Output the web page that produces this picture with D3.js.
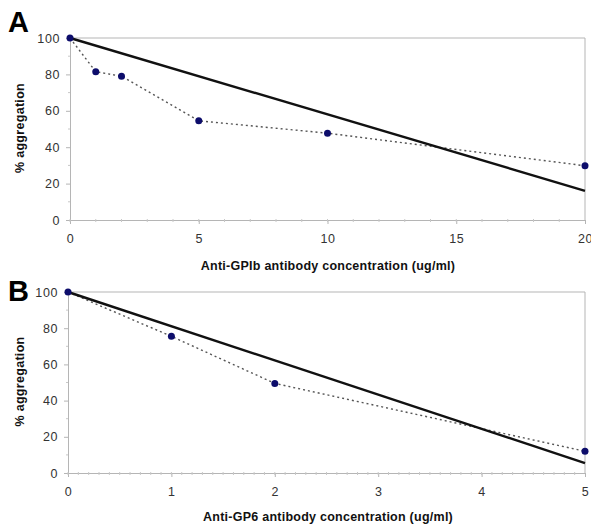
<!DOCTYPE html>
<html>
<head>
<meta charset="utf-8">
<script src="https://cdn.jsdelivr.net/npm/d3@7"></script>
<style>
body { margin: 0; background: #fff; }
text { font-family: Arial, "Liberation Sans", sans-serif; }
</style>
</head>
<body>
<svg id="chart" width="591" height="531"></svg>
<script>
// panel A : anti-GPIb
var doseA = [0, 1, 2, 5, 10, 20];
var aggA = [100, 81.5, 79, 54.5, 47.7, 29.8];
var fitA = [[0, 100], [20, 16]];
var ticksA = [0, 5, 10, 15, 20];

// panel B : anti-GP6
var doseB = [0, 1, 2, 5];
var aggB = [100, 75.5, 49.5, 12];
var fitB = [[0, 100], [5, 5.5]];
var ticksB = [0, 1, 2, 3, 4, 5];

var yTicks = [0, 20, 40, 60, 80, 100];

var svg = d3.select("#chart");

function drawPanel(opts) {
    var g = svg.append("g");
    var x = d3.scaleLinear().domain([0, opts.xmax]).range([opts.left, opts.right]);
    var y = d3.scaleLinear().domain([0, 100]).range([opts.bottom, opts.top]);

    // frame (top + right)
    g.append("path")
        .attr("d", "M" + opts.left + "," + opts.top + "H" + opts.right + "V" + opts.bottom)
        .attr("fill", "none").attr("stroke", "#b5b5b5").attr("stroke-width", 1);

    // y axis
    var ya = g.append("g").attr("transform", "translate(" + opts.left + ",0)")
        .call(d3.axisLeft(y).tickValues(yTicks).tickSize(4).tickPadding(6));
    ya.select(".domain").attr("stroke", "#b5b5b5");
    ya.selectAll(".tick line").attr("stroke", "#b5b5b5");
    ya.selectAll(".tick text").attr("font-size", 12.5).attr("fill", "#333")
        .attr("letter-spacing", 0.6)
        .attr("font-family", "Arial, 'Liberation Sans', sans-serif");
    g.append("g").selectAll("line").data(d3.range(10, 100, 20)).enter().append("line")
        .attr("x1", opts.left - 2).attr("x2", opts.left)
        .attr("y1", function(d) { return y(d); }).attr("y2", function(d) { return y(d); })
        .attr("stroke", "#c8c8c8");

    // x axis
    var xa = g.append("g").attr("transform", "translate(0," + opts.bottom + ")")
        .call(d3.axisBottom(x).tickValues(opts.xticks).tickFormat(d3.format("d")).tickSize(4).tickPadding(10));
    xa.select(".domain").attr("stroke", "#b5b5b5");
    xa.selectAll(".tick line").attr("stroke", "#b5b5b5");
    xa.selectAll(".tick text").attr("font-size", 12.5).attr("fill", "#333")
        .attr("letter-spacing", 0.6)
        .attr("font-family", "Arial, 'Liberation Sans', sans-serif");
    g.append("g").selectAll("line").data(d3.range(0, opts.xmax, opts.minor)).enter().append("line")
        .attr("x1", function(d) { return x(d); }).attr("x2", function(d) { return x(d); })
        .attr("y1", opts.bottom - 1).attr("y2", opts.bottom + 2)
        .attr("stroke", "#c8c8c8");

    // dotted data line
    var pts = opts.dose.map(function(d, i) { return [d, opts.agg[i]]; });
    var line = d3.line().x(function(d) { return x(d[0]); }).y(function(d) { return y(d[1]); });
    g.append("path").datum(pts)
        .attr("d", line)
        .attr("fill", "none").attr("stroke", "#555").attr("stroke-width", 1.4)
        .attr("stroke-dasharray", "2,3");

    // solid reference line
    g.append("path").datum(opts.fit)
        .attr("d", line)
        .attr("fill", "none").attr("stroke", "#111").attr("stroke-width", 2.4);

    g.selectAll("circle").data(pts).enter().append("circle")
        .attr("cx", function(d) { return x(d[0]); })
        .attr("cy", function(d) { return y(d[1]); })
        .attr("r", 3.5)
        .attr("fill", "#0d0d6b");

    var midY = (opts.top + opts.bottom) / 2 - 1;
    g.append("text")
        .attr("x", 20).attr("y", midY)
        .attr("transform", "rotate(-90,20," + midY + ")")
        .attr("text-anchor", "middle").attr("dy", "0.35em")
        .attr("font-size", 12.5).attr("font-weight", "bold").attr("fill", "#111")
        .attr("letter-spacing", 0.3)
        .text("% aggregation");

    g.append("text")
        .attr("x", 328).attr("y", opts.xlabelY)
        .attr("text-anchor", "middle")
        .attr("font-size", 12.5).attr("font-weight", "bold").attr("fill", "#111")
        .attr("letter-spacing", 0.25)
        .text(opts.xlabel);

    g.append("text")
        .attr("x", 8).attr("y", opts.letterY)
        .attr("font-size", 29).attr("font-weight", "bold").attr("fill", "#000")
        .text(opts.letter);
}

drawPanel({
    letter: "A", letterY: 32,
    dose: doseA, agg: aggA, fit: fitA, xticks: ticksA, xmax: 20, minor: 1,
    left: 70, right: 585, top: 38, bottom: 220, xlabelY: 270,
    xlabel: "Anti-GPIb antibody concentration (ug/ml)"
});

drawPanel({
    letter: "B", letterY: 301,
    dose: doseB, agg: aggB, fit: fitB, xticks: ticksB, xmax: 5, minor: 0.1,
    left: 68, right: 585, top: 292, bottom: 473, xlabelY: 521,
    xlabel: "Anti-GP6 antibody concentration (ug/ml)"
});
</script>
</body>
</html>
